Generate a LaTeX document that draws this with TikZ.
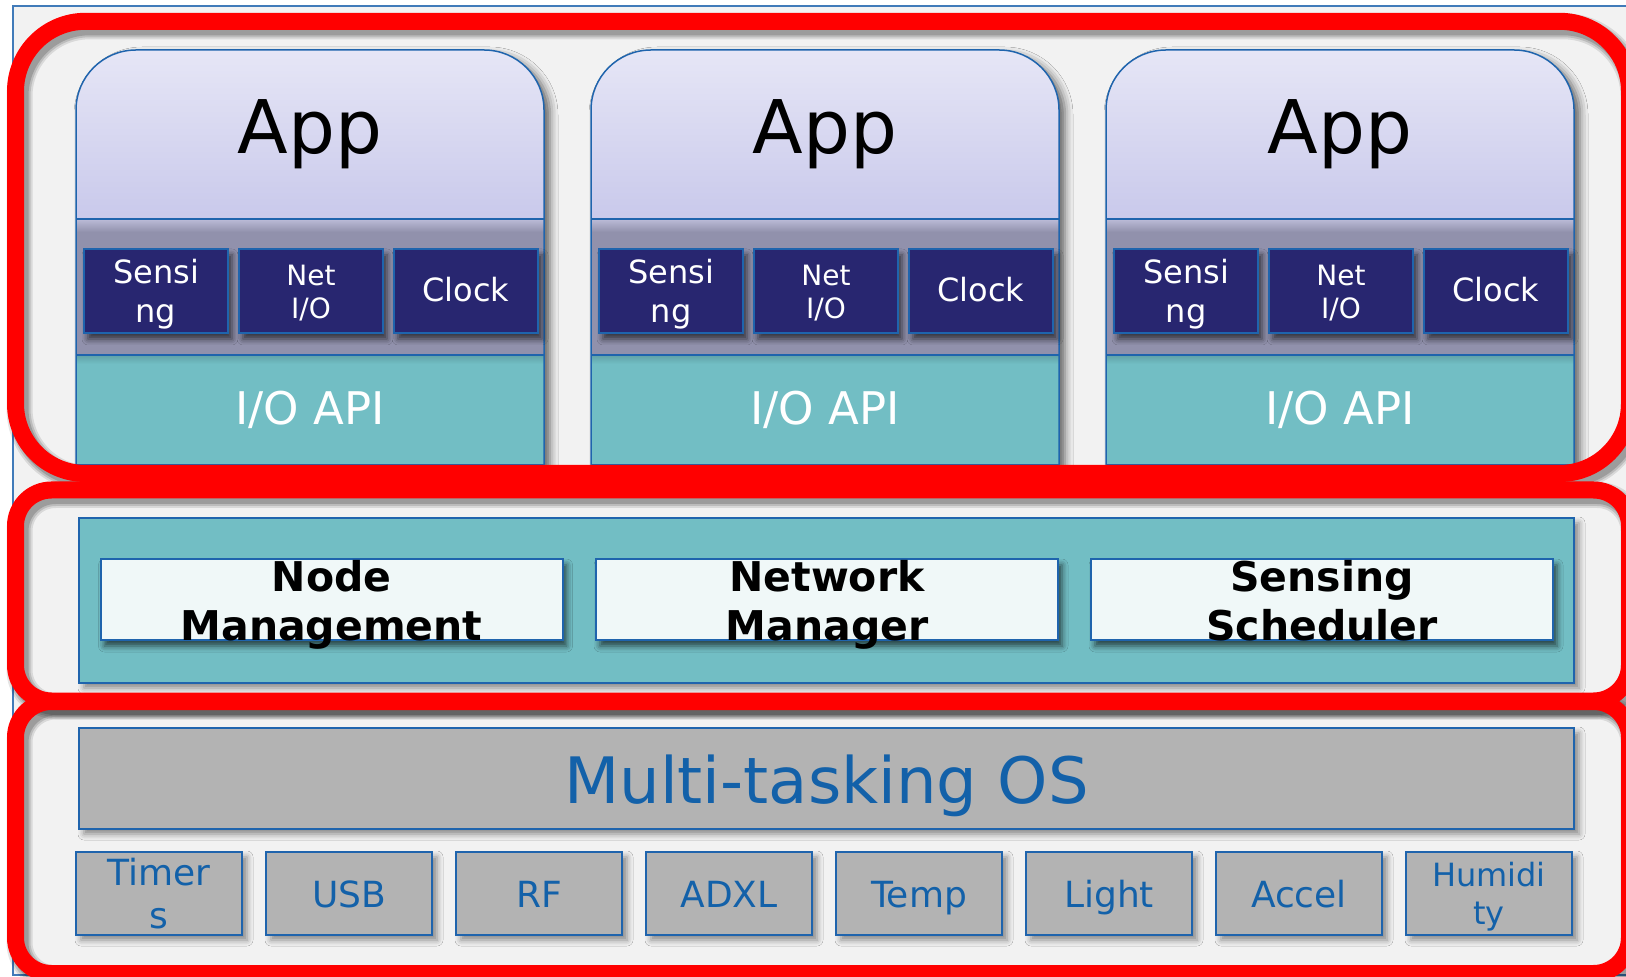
\documentclass[tikz,border=0pt]{standalone}
\usepackage{fontspec}
\setmainfont{DejaVu Sans}
\usetikzlibrary{shadows.blur}

\definecolor{paper}{HTML}{F2F2F2}
\definecolor{edgeblue}{HTML}{1F64AD}
\definecolor{txtblue}{HTML}{1361A9}
\definecolor{navy}{HTML}{282670}
\definecolor{tealfill}{HTML}{72BEC4}
\definecolor{lavtop}{HTML}{E6E6F6}
\definecolor{lavbot}{HTML}{C9C9EB}
\definecolor{bandgray}{HTML}{9191AC}
\definecolor{bandlight}{HTML}{BCBCD8}
\definecolor{paleface}{HTML}{F0F8F8}
\definecolor{osgray}{HTML}{B3B3B3}

\tikzset{
  every node/.style={inner sep=0pt, outer sep=0pt},
  sz/.style 2 args={minimum width=#1*0.5pt, minimum height=#2*0.5pt},
  softshadow/.style={blur shadow={shadow xshift=2.5pt, shadow yshift=-2.5pt,
      shadow blur radius=3pt, shadow opacity=45}},
  colshadow/.style={blur shadow={shadow xshift=3pt, shadow yshift=-2.5pt,
      shadow blur radius=4pt, shadow opacity=60}},
  darkshadow/.style={blur shadow={shadow xshift=2pt, shadow yshift=-3pt,
      shadow blur radius=3pt, shadow opacity=65}},
  navybox/.style={draw=edgeblue, line width=1pt, fill=navy, darkshadow, sz={144}{84}},
  navytext/.style={text=white, align=center},
  mgrbox/.style={draw=edgeblue, line width=1pt, fill=paleface, darkshadow, sz={462}{81}},
  mgrtext/.style={font=\bfseries\fontsize{20.5}{24.5}\selectfont, align=center, anchor=base},
  hwbox/.style={draw=edgeblue, line width=1pt, fill=osgray, softshadow, sz={166}{83}},
  hwtext/.style={text=txtblue, align=center, font=\fontsize{18}{21.8}\selectfont},
  hwone/.style={hwtext, anchor=base},
  panel/.style={draw=edgeblue, line width=1pt, softshadow},
  colline/.style={draw=edgeblue, line width=0.75pt},
}

% one red layer ring: top y, bottom y, corner radius
\newcommand\ringshadow[3]{%
  \foreach \w/\o in {13/0.10,11/0.13,9/0.17}{%
    \draw[black, opacity=\o, line width=\w pt, rounded corners=#3, shift={(4,5)}]
      (15.5,#1) rectangle (1629.5,#2);}}
\newcommand\ringline[3]{%
  \draw[red, line width=8.5pt, rounded corners=#3] (15.5,#1) rectangle (1629.5,#2);}

\begin{document}
\begin{tikzpicture}[x=0.5pt, y=-0.5pt]
\useasboundingbox (0,0) rectangle (1626,977);
\fill[white] (0,0) rectangle (1626,977);

% slide frame
\fill[paper] (13,6) rectangle (1645,975);
\draw[edgeblue!85, line width=0.75pt] (13,6) rectangle (1645,975);

% shadows of the three red layer rings
\ringshadow{21.3}{473.5}{35pt}
\ringshadow{490}{701}{18pt}
\ringshadow{701.5}{973.5}{18pt}

% ---------- application columns ----------
\foreach \k/\L in {1/76,2/591,3/1106}{
  \pgfmathsetmacro\R{\L+468}
  \pgfmathsetmacro\C{\L+234}
  \fill[tealfill, colshadow] (\L,465) -- (\L,110)
     arc[start angle=180, end angle=270, radius=60] -- (\R-60,50)
     arc[start angle=270, end angle=360, radius=60] -- (\R,465) -- cycle;
  \shade[top color=lavtop, bottom color=lavbot] (\L,219) -- (\L,110)
     arc[start angle=180, end angle=270, radius=60] -- (\R-60,50)
     arc[start angle=270, end angle=360, radius=60] -- (\R,219) -- cycle;
  \fill[bandgray] (\L,219) rectangle (\R,355);
  \shade[top color=bandlight, bottom color=bandgray] (\L,219) rectangle (\R,232);
  \shade[top color=tealfill!85!black, bottom color=tealfill] (\L,355) rectangle (\R,364);
  \draw[colline] (\L,465) -- (\L,110)
     arc[start angle=180, end angle=270, radius=60] -- (\R-60,50)
     arc[start angle=270, end angle=360, radius=60] -- (\R,465) -- cycle;
  \draw[colline] (\L,219) -- (\R,219) (\L,355) -- (\R,355);
  \node[anchor=base, font=\fontsize{37}{44}\selectfont] (app\k) at (\C,154) {App};
  \node[navybox] (sense\k) at (\L+80,291) {};
  \node[navybox] (net\k) at (\L+235,291) {};
  \node[navybox] (clock\k) at (\L+390,291) {};
  \node[navytext, font=\fontsize{16}{19.5}\selectfont] (senselbl\k) at (\L+80,294) {Sensi\\ng};
  \node[navytext, font=\fontsize{14}{16.5}\selectfont] (netlbl\k) at (\L+235,293.5) {Net\\I/O};
  \node[navytext, font=\fontsize{16}{19.5}\selectfont, anchor=base] (clocklbl\k) at (\L+390,302) {Clock};
  \node[anchor=base, text=white, font=\fontsize{22.5}{27}\selectfont] (io\k) at (\C,425) {I/O API};
}

% ---------- middleware services ----------
\node[panel, fill=tealfill, sz={1495}{165}] (svc) at (826.5,600.5) {};
\node[mgrbox] (nodemgmt) at (331.5,599.5) {};
\node[mgrbox] (netmgr) at (827,599.5) {};
\node[mgrbox] (sched) at (1322,599.5) {};
\node[mgrtext] (nodemgmtlbl) at (331.5,640.5) {Node\\Management};
\node[mgrtext] (netmgrlbl) at (827,640.5) {Network\\Manager};
\node[mgrtext] (schedlbl) at (1322,640.5) {Sensing\\Scheduler};

% ---------- operating system and drivers ----------
\node[panel, fill=osgray, sz={1495}{101}] (os) at (826.5,778.5) {};
\node[anchor=base, text=txtblue, font=\fontsize{32}{38}\selectfont] (oslbl) at (826.5,803) {Multi-tasking OS};

\node[hwbox] (timers) at (159,893.5) {};
\node[hwbox] (usb)    at (349,893.5) {};
\node[hwbox] (rf)     at (539,893.5) {};
\node[hwbox] (adxl)   at (729,893.5) {};
\node[hwbox] (temp)   at (919,893.5) {};
\node[hwbox] (light)  at (1109,893.5) {};
\node[hwbox] (accel)  at (1299,893.5) {};
\node[hwbox] (humid)  at (1489,893.5) {};
\node[hwtext] (timerslbl) at (159,893.5) {Timer\\s};
\node[hwone] (usblbl)   at (349,907) {USB};
\node[hwone] (rflbl)    at (539,907) {RF};
\node[hwone] (adxllbl)  at (729,907) {ADXL};
\node[hwone] (templbl)  at (919,907) {Temp};
\node[hwone] (lightlbl) at (1109,907) {Light};
\node[hwone] (accellbl) at (1299,907) {Accel};
\node[hwtext, font=\fontsize{16}{19}\selectfont] (humidlbl) at (1489,896.5) {Humidi\\ty};

% red layer rings
\ringline{21.3}{473.5}{35pt}
\ringline{490}{701}{18pt}
\ringline{701.5}{973.5}{18pt}
\end{tikzpicture}
\end{document}
